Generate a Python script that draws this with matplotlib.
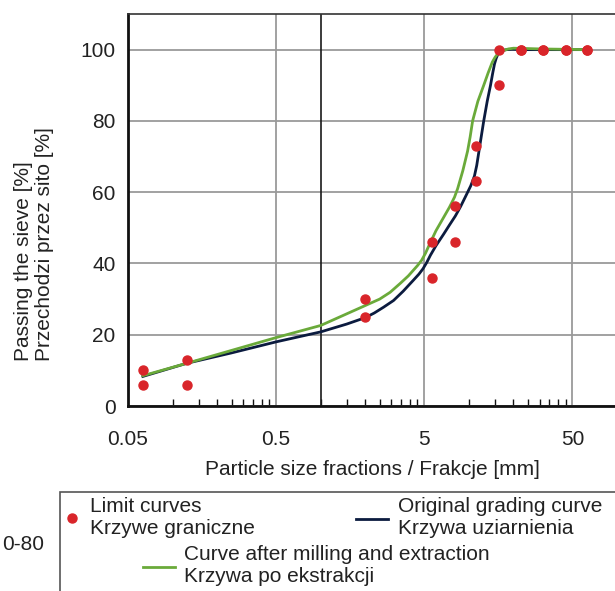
import numpy as np
import matplotlib.pyplot as plt
from matplotlib.lines import Line2D
from matplotlib.patches import Rectangle
from matplotlib.ticker import FixedLocator, FixedFormatter, NullFormatter

plt.rcParams['font.family'] = ['Liberation Sans', 'DejaVu Sans']

# sieve sizes [mm] and limit curves [%]
sieve = [0.063, 0.125, 2, 5.6, 8, 11.2, 16, 22.4, 31.5, 45, 63]
upper_limit = [10, 13, 30, 46, 56, 73, 100, 100, 100, 100, 100]
lower_limit = [6, 6, 25, 36, 46, 63, 90, 100, 100, 100, 100]

# original grading curve
orig_x = [0.063, 0.125, 0.25, 0.5, 1, 1.5, 2, 2.3, 2.65, 3.1, 3.6, 4.2, 4.6, 4.9,
          5.2, 5.5, 6.0, 6.75, 7.4, 8.1, 8.8, 9.5, 10.3, 10.9, 11.3, 11.8, 12.6, 13.3,
          14.0, 14.5, 14.9, 15.3, 15.7, 16.3, 17.0, 18.0, 19.5, 25, 63]
orig_y = [8.3, 12, 14.9, 18, 20.8, 23, 24.8, 26.1, 27.7, 29.6, 32.2, 35.2, 37.0, 38.5,
          40.3, 42.3, 45.0, 48.2, 50.8, 53.3, 56.0, 58.8, 61.8, 64.5, 67.5, 72.5, 80, 85.5,
          90, 93.5, 96.0, 97.6, 98.7, 99.4, 99.8, 100, 100.1, 100, 100]

# curve after milling and extraction
mill_x = [0.063, 0.125, 0.25, 0.5, 1, 2, 2.5, 2.94, 3.44, 3.9, 4.22, 4.5, 4.8, 5.1,
          5.43, 6.0, 6.75, 7.4, 8.0, 8.4, 9.1, 9.8, 10.2, 10.6, 11.5, 12.6, 13.5,
          14.4, 15.0, 15.5, 16.3, 17.2, 18.5, 20, 25, 30, 63]
mill_y = [8.5, 12, 15.6, 19.2, 22.6, 28.2, 30.0, 31.9, 34.4, 36.5, 38.1, 39.4, 40.9, 42.9,
          45.4, 49.2, 52.9, 55.8, 58.6, 61, 66, 71.5, 75.5, 80, 85.5, 90, 93.5,
          96.5, 97.8, 98.6, 99.3, 99.8, 100.2, 100.4, 100.3, 100.2, 100]

major_x = [0.05, 0.5, 5, 50]
major_labels = ['0.05', '0.5', '5', '50']
y_ticks = [0, 20, 40, 60, 80, 100]

RED = '#d9252a'
NAVY = '#0b1b3f'
GREEN = '#6aaa3a'
GRID = '#9a9a9a'
TXT = '#222222'
FS = 15

W, H = 615, 591
fig = plt.figure(figsize=(W / 100, H / 100), dpi=100)
ax = fig.add_axes([128 / W, (H - 406) / H, 489 / W, 392 / H])

ax.set_xscale('log')
ax.set_xlim(0.05, 100)
ax.set_ylim(0, 110)

ax.xaxis.set_major_locator(FixedLocator(major_x))
ax.xaxis.set_major_formatter(FixedFormatter(major_labels))
minor = [0.05 * k * 10 ** d for d in range(3) for k in np.arange(2, 10)]
ax.xaxis.set_minor_locator(FixedLocator(minor))
ax.xaxis.set_minor_formatter(NullFormatter())
ax.set_yticks(y_ticks)

ax.grid(True, which='major', color=GRID, lw=1.3)
ax.set_axisbelow(True)
ax.axvline(1, color='#1a1a1a', lw=1.2, zorder=1)

ax.tick_params(axis='x', which='major', length=0, pad=17, labelsize=FS, labelcolor=TXT)
ax.tick_params(axis='x', which='minor', direction='in', length=5, width=1, color='#111111')
ax.tick_params(axis='y', length=0, pad=9, labelsize=FS, labelcolor=TXT)

for s in ['left', 'bottom']:
    ax.spines[s].set_linewidth(2)
    ax.spines[s].set_color('#111111')
ax.spines['top'].set_linewidth(1.2)
ax.spines['top'].set_color('#333333')
ax.spines['right'].set_visible(False)

ax.plot(orig_x, orig_y, color=NAVY, lw=2, zorder=3)
ax.plot(mill_x, mill_y, color=GREEN, lw=2, zorder=3)
ax.plot(sieve, upper_limit, 'o', color=RED, ms=6.5, zorder=4)
ax.plot(sieve, lower_limit, 'o', color=RED, ms=6.5, zorder=4)

ax.set_xlabel('Particle size fractions / Frakcje [mm]', fontsize=FS, color=TXT, labelpad=8)
fig.text(34 / W, (H - 361) / H, 'Passing the sieve [%]\nPrzechodzi przez sito [%]',
         rotation=90, ha='center', va='bottom', multialignment='left',
         fontsize=FS, color=TXT, linespacing=1.1)


def fx(px):
    return px / W


def fy(py):
    return (H - py) / H


# legend box
fig.add_artist(Rectangle((fx(60), fy(640)), 1, fy(491.7) - fy(640), transform=fig.transFigure,
                         fill=False, edgecolor='#555555', lw=1.2, clip_on=False))
fig.text(fx(44), fy(545), '0-80', ha='right', va='center', fontsize=FS, color=TXT)

fig.add_artist(Line2D([fx(72)], [fy(518)], marker='o', color=RED, ms=6.5,
                      transform=fig.transFigure))
fig.text(fx(90), fy(518), 'Limit curves\nKrzywe graniczne', ha='left', va='center',
         fontsize=FS, color=TXT, linespacing=1.2)

fig.add_artist(Line2D([fx(356), fx(388)], [fy(519), fy(519)], color=NAVY, lw=2,
                      transform=fig.transFigure))
fig.text(fx(398), fy(518), 'Original grading curve\nKrzywa uziarnienia', ha='left',
         va='center', fontsize=FS, color=TXT, linespacing=1.2)

fig.add_artist(Line2D([fx(143), fx(175)], [fy(567), fy(567)], color=GREEN, lw=2,
                      transform=fig.transFigure))
fig.text(fx(184), fy(566), 'Curve after milling and extraction\nKrzywa po ekstrakcji',
         ha='left', va='center', fontsize=FS, color=TXT, linespacing=1.2)

fig.savefig('out.png', dpi=100)
